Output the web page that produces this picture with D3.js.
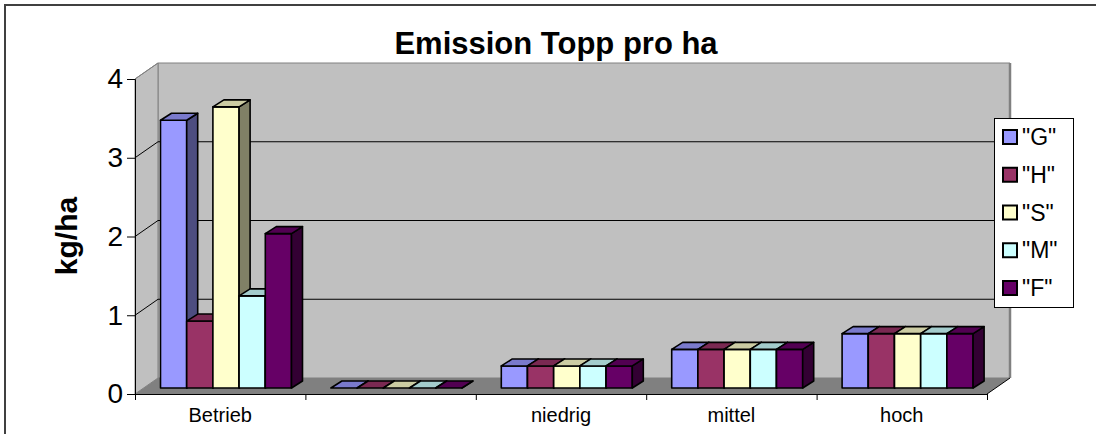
<!DOCTYPE html>
<html>
<head>
<meta charset="utf-8">
<script src="https://cdn.jsdelivr.net/npm/d3@7/dist/d3.min.js"></script>
<style>
  html, body { margin: 0; padding: 0; background: #ffffff; }
  svg { display: block; font-family: Arial, "Liberation Sans", sans-serif; }
</style>
</head>
<body>
<svg id="chart" width="1096" height="434"></svg>
<script>
// Emission Topp pro ha — 3D clustered columns
const categories = ["Betrieb", "", "niedrig", "mittel", "hoch"];
const seriesNames = ['"G"', '"H"', '"S"', '"M"', '"F"'];
const valuesG = [3.40, 0, 0.28, 0.49, 0.69];
const valuesH = [0.85, 0, 0.28, 0.49, 0.69];
const valuesS = [3.57, 0, 0.28, 0.49, 0.69];
const valuesM = [1.17, 0, 0.28, 0.49, 0.69];
const valuesF = [1.96, 0, 0.28, 0.49, 0.69];
const yTicks = [0, 1, 2, 3, 4];
const seriesColors = ["#9999ff", "#993366", "#ffffcc", "#ccffff", "#660066"];

const seriesValues = [valuesG, valuesH, valuesS, valuesM, valuesF];

const svg = d3.select("#chart");

// frame
svg.append("rect")
  .attr("x", 5).attr("y", 5).attr("width", 1300).attr("height", 600)
  .attr("fill", "#ffffff").attr("stroke", "#404040").attr("stroke-width", 2);

// plot geometry (front plane + depth)
const plotLeft = 135, plotRight = 987, plotBottom = 394, plotTop = 79;
const depthX = 23, depthY = -16;          // floor/wall depth
const barShiftX = 8, barShiftY = -6;      // bar front plane inside depth
const barDepthX = 11, barDepthY = -7;     // bar thickness in depth

const y = d3.scaleLinear().domain([0, 4]).range([plotBottom, plotTop]);
const x = d3.scaleBand().domain(d3.range(categories.length)).range([plotLeft, plotRight]).padding(0);
const xs = d3.scaleBand().domain(d3.range(seriesNames.length))
  .range([17.5, 17.5 + 131]).padding(0);
const xEdge = d3.scaleLinear().domain([0, categories.length]).range([plotLeft, plotRight]);

const poly = pts => "M" + pts.map(p => p.join(",")).join("L") + "Z";

// walls and floor
const yTop = y(4);
svg.append("path")
  .attr("d", poly([[plotLeft + depthX, yTop + depthY], [plotRight + depthX, yTop + depthY],
                   [plotRight + depthX, plotBottom + depthY], [plotLeft + depthX, plotBottom + depthY]]))
  .attr("fill", "#c0c0c0").attr("stroke", "#808080").attr("stroke-width", 1);
svg.append("path")
  .attr("d", poly([[plotLeft, plotBottom], [plotLeft, yTop],
                   [plotLeft + depthX, yTop + depthY], [plotLeft + depthX, plotBottom + depthY]]))
  .attr("fill", "#c0c0c0").attr("stroke", "#808080").attr("stroke-width", 1);
svg.append("path")
  .attr("d", poly([[plotLeft, plotBottom], [plotRight, plotBottom],
                   [plotRight + depthX, plotBottom + depthY], [plotLeft + depthX, plotBottom + depthY]]))
  .attr("fill", "#808080").attr("stroke", "none");
// darker right edge of back wall
svg.append("line")
  .attr("x1", plotRight + depthX).attr("x2", plotRight + depthX)
  .attr("y1", yTop + depthY).attr("y2", plotBottom + depthY)
  .attr("stroke", "#808080").attr("stroke-width", 2.5);

// gridlines: diagonal on side wall, horizontal on back wall
const grid = svg.append("g");
yTicks.filter(t => t > 0).forEach(t => {
  grid.append("line")
    .attr("x1", plotLeft).attr("y1", y(t))
    .attr("x2", plotLeft + depthX).attr("y2", y(t) + depthY)
    .attr("stroke", t === 4 ? "#808080" : "#000000").attr("stroke-width", 1);
  if (t < 4) {
    grid.append("line")
      .attr("x1", plotLeft + depthX).attr("y1", y(t) + depthY)
      .attr("x2", plotRight + depthX).attr("y2", y(t) + depthY)
      .attr("stroke", "#000000").attr("stroke-width", 1);
  }
});
// floor right edge
svg.append("line")
  .attr("x1", plotRight).attr("y1", plotBottom)
  .attr("x2", plotRight + depthX).attr("y2", plotBottom + depthY)
  .attr("stroke", "#000000").attr("stroke-width", 1);

// bars
const shade = (c, k) => { const r = d3.rgb(c); return d3.rgb(r.r * k, r.g * k, r.b * k).formatHex(); };
const bars = svg.append("g").attr("stroke", "#000000").attr("stroke-width", 1.6).attr("stroke-linejoin", "round");
categories.forEach((cat, ci) => {
  seriesNames.forEach((s, si) => {
    const v = seriesValues[si][ci];
    const x0 = x(ci) + xs(si) + barShiftX;
    const x1 = x0 + xs.bandwidth();
    const yb = y(0) + barShiftY;
    const yt = y(v) + barShiftY;
    const col = seriesColors[si];
    // front face
    if (yb - yt > 0.5) {
      bars.append("path").attr("d", poly([[x0, yb], [x1, yb], [x1, yt], [x0, yt]])).attr("fill", col);
    }
    // side face
    bars.append("path")
      .attr("d", poly([[x1, yb], [x1 + barDepthX, yb + barDepthY], [x1 + barDepthX, yt + barDepthY], [x1, yt]]))
      .attr("fill", shade(col, 0.5));
    // top face
    bars.append("path")
      .attr("d", poly([[x0, yt], [x1, yt], [x1 + barDepthX, yt + barDepthY], [x0 + barDepthX, yt + barDepthY]]))
      .attr("fill", shade(col, 0.8));
  });
});

// value axis
const yAxis = svg.append("g")
  .attr("transform", `translate(${plotLeft},0)`)
  .call(d3.axisLeft(y).tickValues(yTicks).tickFormat(d3.format("d")).tickSize(8).tickPadding(4));
yAxis.select(".domain").attr("stroke", "#000000").attr("stroke-width", 1);
yAxis.selectAll(".tick line").attr("stroke", "#000000");
yAxis.selectAll("text").attr("font-size", 28).attr("fill", "#000000")
  .attr("font-family", "Arial, 'Liberation Sans', sans-serif");

// category axis: boundary ticks and labels
const xTickAxis = svg.append("g")
  .attr("transform", `translate(0,${plotBottom})`)
  .call(d3.axisBottom(xEdge).tickValues(d3.range(categories.length + 1)).tickFormat("").tickSize(6).tickSizeOuter(0));
xTickAxis.select(".domain").attr("stroke", "#000000");
xTickAxis.selectAll(".tick line").attr("stroke", "#000000");

const xLabelAxis = svg.append("g")
  .attr("transform", `translate(0,${plotBottom})`)
  .call(d3.axisBottom(x).tickFormat(i => categories[i]).tickSize(0).tickPadding(14));
xLabelAxis.select(".domain").remove();
xLabelAxis.selectAll("text").attr("font-size", 20).attr("fill", "#000000")
  .attr("font-family", "Arial, 'Liberation Sans', sans-serif");

// axis title
svg.append("text")
  .attr("transform", "translate(77,236) rotate(-90)")
  .attr("text-anchor", "middle")
  .attr("font-size", 30).attr("font-weight", "bold")
  .text("kg/ha");

// chart title
svg.append("text")
  .attr("x", 556).attr("y", 54)
  .attr("text-anchor", "middle")
  .attr("font-size", 31).attr("font-weight", "bold")
  .text("Emission Topp pro ha");

// legend
const legend = svg.append("g");
legend.append("rect")
  .attr("x", 994.5).attr("y", 118.5).attr("width", 79).attr("height", 189)
  .attr("fill", "#ffffff").attr("stroke", "#000000").attr("stroke-width", 1);
const rowY = d3.scalePoint().domain(seriesNames).range([137, 288]);
seriesNames.forEach((s, si) => {
  legend.append("rect")
    .attr("x", 1003).attr("y", rowY(s) - 7).attr("width", 14).attr("height", 14)
    .attr("fill", seriesColors[si]).attr("stroke", "#000000").attr("stroke-width", 2);
  legend.append("text")
    .attr("x", 1022).attr("y", rowY(s) + 8)
    .attr("font-size", 23)
    .text(s);
});
</script>
</body>
</html>
